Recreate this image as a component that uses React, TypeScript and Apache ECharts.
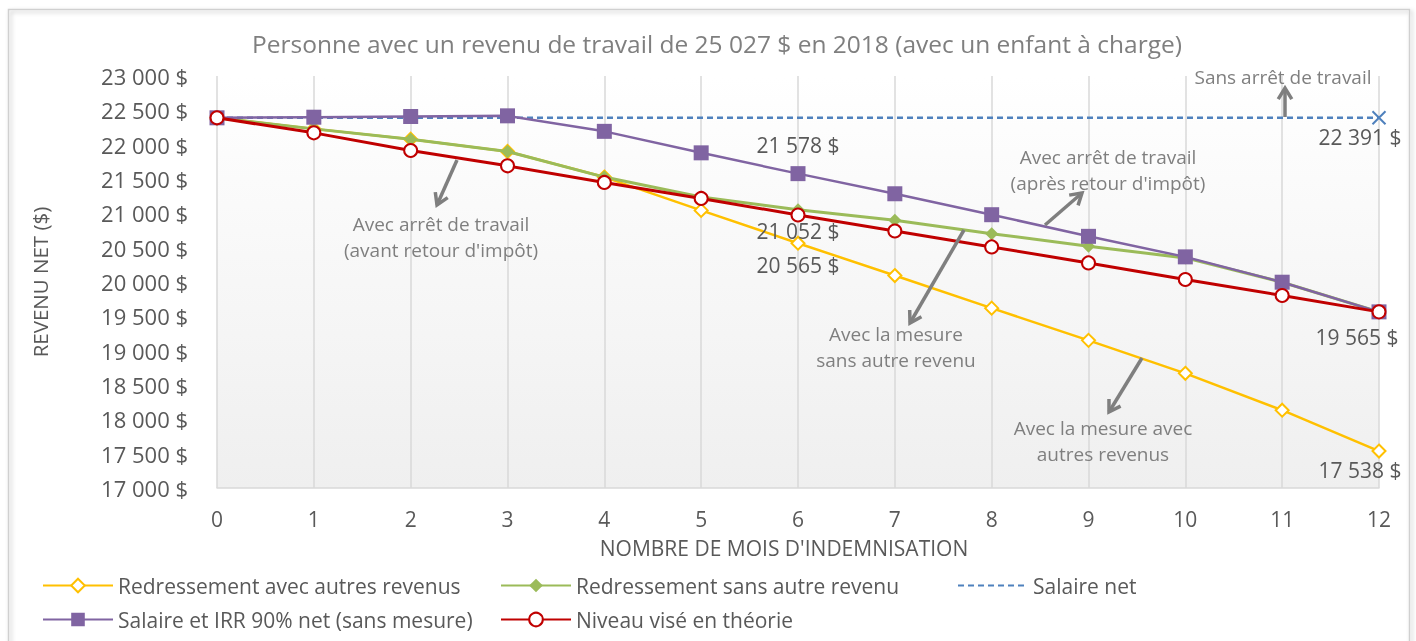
import React, { useEffect, useRef } from "react";
import * as echarts from "echarts";

const months = ["0", "1", "2", "3", "4", "5", "6", "7", "8", "9", "10", "11", "12"];
const redressementAvec = [22391, 22230, 22080, 21900, 21528, 21043, 20565, 20094, 19619, 19150, 18670, 18133, 17538];
const redressementSans = [22391, 22230, 22080, 21900, 21528, 21237, 21052, 20898, 20704, 20520, 20351, 19997, 19565];
const salaireNet = [22391, 22391, 22391, 22391, 22391, 22391, 22391, 22391, 22391, 22391, 22391, 22391, 22391];
const salaireIRR = [22391, 22400, 22410, 22420, 22194, 21881, 21578, 21285, 20980, 20665, 20366, 19997, 19565];
const niveauVise = [22391, 22172, 21915, 21692, 21450, 21217, 20976, 20743, 20511, 20278, 20036, 19803, 19565];
const yTicks = { min: 17000, max: 23000, interval: 500 };

const FONT = "Open Sans";
const GRAY = "#595959";
const ANN = "#7f7f7f";

const fmt = (v: number) => {
  const s = Math.round(v).toString();
  return s.replace(/\B(?=(\d{3})+(?!\d))/g, " ") + " $";
};

function arrow(x1: number, y1: number, x2: number, y2: number) {
  const ang = Math.atan2(y2 - y1, x2 - x1);
  const L = 13;
  const a = 0.55;
  const p1 = [x2 - L * Math.cos(ang - a), y2 - L * Math.sin(ang - a)];
  const p2 = [x2 - L * Math.cos(ang + a), y2 - L * Math.sin(ang + a)];
  return [
    { type: "line", shape: { x1, y1, x2, y2 }, style: { stroke: ANN, lineWidth: 3.5 }, z: 100 },
    { type: "polyline", shape: { points: [p1, [x2, y2], p2] }, style: { stroke: ANN, lineWidth: 3.5, fill: null }, z: 100 },
  ];
}

function annText(x: number, y: number, text: string) {
  return {
    type: "text",
    x,
    y,
    z: 100,
    style: { text, fill: ANN, font: `19px '${FONT}'`, align: "center", verticalAlign: "middle", lineHeight: 26 },
  };
}

export default function App() {
  const ref = useRef<HTMLDivElement>(null);
  useEffect(() => {
    if (!ref.current) return;
    const chart = echarts.init(ref.current, null, { renderer: "svg" });
    const lastIdx = months.length - 1;
    const labelStyle = { show: true, color: GRAY, fontSize: 21, fontFamily: FONT, formatter: (p: any) => fmt(p.value) };

    const legendBase = {
      itemWidth: 70,
      itemHeight: 17,
      textStyle: { color: GRAY, fontSize: 21, fontFamily: FONT },
      selectedMode: false,
    };

    chart.setOption({
      animation: false,
      textStyle: { fontFamily: FONT },
      title: {
        text: "Personne avec un revenu de travail de 25 027 $ en 2018 (avec un enfant à charge)",
        left: 712,
        textAlign: "center",
        top: 26,
        textStyle: { color: ANN, fontSize: 24.5, fontWeight: "normal", fontFamily: FONT },
      },
      grid: {
        left: 217,
        right: 37,
        top: 76,
        bottom: 153,
        show: true,
        borderWidth: 0,
        backgroundColor: new echarts.graphic.LinearGradient(0, 0, 0, 1, [
          { offset: 0, color: "#ffffff" },
          { offset: 1, color: "#efefef" },
        ]),
      },
      legend: [
        { ...legendBase, data: ["Redressement avec autres revenus"], left: 37, top: 570 },
        { ...legendBase, data: ["Redressement sans autre revenu"], left: 495, top: 570 },
        { ...legendBase, data: ["Salaire net"], left: 952, top: 570, itemStyle: { opacity: 0 } },
        { ...legendBase, data: ["Salaire et IRR 90% net (sans mesure)"], left: 37, top: 604 },
        { ...legendBase, data: ["Niveau visé en théorie"], left: 495, top: 604 },
      ],
      xAxis: {
        type: "category",
        data: months,
        boundaryGap: false,
        name: "NOMBRE DE MOIS D'INDEMNISATION",
        nameLocation: "middle",
        nameGap: 49,
        nameTextStyle: { color: GRAY, fontSize: 21, fontFamily: FONT, padding: [0, 28, 0, 0] },
        axisLine: { lineStyle: { color: "#d9d9d9", width: 1.5 } },
        axisTick: { show: false },
        axisLabel: { color: GRAY, fontSize: 21, fontFamily: FONT, margin: 20 },
        splitLine: { show: true, lineStyle: { color: "#d9d9d9", width: 1.5 } },
      },
      yAxis: {
        type: "value",
        min: yTicks.min,
        max: yTicks.max,
        interval: yTicks.interval,
        name: "REVENU NET ($)",
        nameLocation: "middle",
        nameGap: 167,
        nameRotate: 90,
        nameTextStyle: { color: GRAY, fontSize: 20.5, fontFamily: FONT },
        axisLine: { show: false },
        axisTick: { show: false },
        splitLine: { show: false },
        axisLabel: { color: GRAY, fontSize: 22, fontFamily: FONT, margin: 29, formatter: (v: number) => fmt(v) },
      },
      series: [
        {
          name: "Redressement avec autres revenus",
          type: "line",
          symbol: "diamond",
          symbolSize: 13,
          itemStyle: { color: "#ffffff", borderColor: "#FFC000", borderWidth: 2 },
          lineStyle: { color: "#FFC000", width: 2.5 },
          data: redressementAvec.map((v, i) =>
            i === 6
              ? { value: v, label: { ...labelStyle, position: "bottom", distance: 4 } }
              : i === lastIdx
              ? { value: v, label: { ...labelStyle, position: "bottom", distance: 1, offset: [-19, 0] } }
              : v
          ),
          z: 2,
        },
        {
          name: "Redressement sans autre revenu",
          type: "line",
          symbol: "diamond",
          symbolSize: 13,
          itemStyle: { color: "#9BBB59" },
          lineStyle: { color: "#9BBB59", width: 3 },
          data: redressementSans.map((v, i) =>
            i === 6 ? { value: v, label: { ...labelStyle, position: "bottom", distance: 4 } } : v
          ),
          z: 3,
        },
        {
          name: "Salaire net",
          type: "line",
          symbol: "none",
          itemStyle: { color: "#4F81BD" },
          lineStyle: { color: "#4F81BD", width: 2.5, type: [6, 4] },
          data: salaireNet.map((v, i) =>
            i === lastIdx
              ? {
                  value: v,
                  symbol: "path://M0,0L10,10M10,0L0,10",
                  symbolSize: 13,
                  itemStyle: { color: "none", borderColor: "#4F81BD", borderWidth: 2 },
                  label: { ...labelStyle, position: "bottom", distance: 0, offset: [-19, 0] },
                }
              : v
          ),
          z: 4,
        },
        {
          name: "Salaire et IRR 90% net (sans mesure)",
          type: "line",
          symbol: "rect",
          symbolSize: 15,
          itemStyle: { color: "#8064A2" },
          lineStyle: { color: "#8064A2", width: 2.5 },
          data: salaireIRR.map((v, i) =>
            i === 6 ? { value: v, label: { ...labelStyle, position: "top", distance: 11 } } : v
          ),
          z: 5,
        },
        {
          name: "Niveau visé en théorie",
          type: "line",
          symbol: "circle",
          symbolSize: 13,
          itemStyle: { color: "#ffffff", borderColor: "#C00000", borderWidth: 2 },
          lineStyle: { color: "#C00000", width: 3 },
          data: niveauVise.map((v, i) =>
            i === lastIdx
              ? { value: v, label: { ...labelStyle, position: "bottom", distance: 7, offset: [-22, 0] } }
              : v
          ),
          z: 6,
        },
      ],
      graphic: [
        {
          type: "rect",
          shape: { x: 8.5, y: 9.5, width: 1401, height: 700 },
          style: { fill: null, stroke: "#d0d0d0", lineWidth: 1.5, shadowBlur: 4, shadowColor: "rgba(0,0,0,0.25)", shadowOffsetX: 2, shadowOffsetY: 2 },
          silent: true,
          z: -10,
        },
        annText(1283, 77, "Sans arrêt de travail"),
        ...arrow(1285, 117, 1285, 88),
        annText(1108, 170, "Avec arrêt de travail\n(après retour d'impôt)"),
        ...arrow(1045, 225, 1082, 193),
        annText(441, 237, "Avec arrêt de travail\n(avant retour d'impôt)"),
        ...arrow(457, 160, 437, 205),
        annText(896, 347, "Avec la mesure\nsans autre revenu"),
        ...arrow(964, 230, 910, 323),
        annText(1103, 441, "Avec la mesure avec\nautres revenus"),
        ...arrow(1142, 358, 1109, 412),
      ],
    });
    return () => chart.dispose();
  }, []);
  return <div ref={ref} style={{ position: "fixed", left: 0, top: 0, width: 1416, height: 641 }} />;
}
